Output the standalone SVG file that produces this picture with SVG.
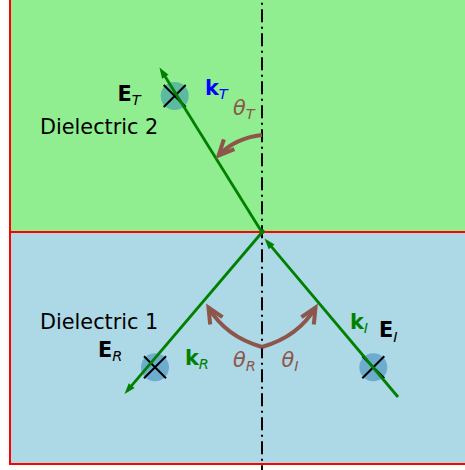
<svg xmlns="http://www.w3.org/2000/svg" width="465" height="470" viewBox="0 0 465 470">
<style>
.t{font-family:"DejaVu Sans",sans-serif;font-size:20.8px}
.b{font-weight:bold}
.s{font-style:italic;font-size:14.5px}
.i{font-style:italic}
.ray{stroke:#008000;stroke-width:2.8;fill:none;marker-end:url(#ah)}
.arc{stroke:#8c564b;stroke-width:4;fill:none;marker-end:url(#ch)}
.x{stroke:#000;stroke-width:2}
.dot{fill:#1f77b4;fill-opacity:0.45}
</style>
<defs>
<marker id="ah" markerUnits="userSpaceOnUse" orient="auto" overflow="visible" markerWidth="1" markerHeight="1">
<path d="M8,0 L-3,-3.8 L-3,3.8 Z" fill="#008000"/>
</marker>
<marker id="ch" markerUnits="userSpaceOnUse" orient="auto" overflow="visible" markerWidth="1" markerHeight="1">
<path d="M-15.4,-7.2 L0,0 L-15.4,7.2" fill="none" stroke="#8c564b" stroke-width="4" stroke-linejoin="miter"/>
</marker>
</defs>
<g id="dielectric2">
<rect x="10" y="-10" width="470" height="242" fill="#90ee90" stroke="#ff0000" stroke-width="2"/>
<text class="t" x="40" y="134.3">Dielectric 2</text>
</g>
<g id="dielectric1">
<rect x="10" y="232" width="470" height="232" fill="#add8e6" stroke="#ff0000" stroke-width="2"/>
<text class="t" x="40" y="329">Dielectric 1</text>
</g>
<line id="normal" x1="262" y1="0" x2="262" y2="470" stroke="#000" stroke-width="2" stroke-dasharray="13 4.5 2 4.5" stroke-dashoffset="14.7"/>
<g id="ET">
<circle class="dot" cx="174.7" cy="96" r="14"/>
<path class="x" d="M163.7,85 L185.7,107 M185.7,85 L163.7,107"/>
<text class="t" x="117.5" y="100.7"><tspan class="b">E</tspan><tspan class="s" dy="4.3">T</tspan></text>
</g>
<g id="ER">
<circle class="dot" cx="155" cy="367.3" r="14"/>
<path class="x" d="M144,356.3 L166,378.3 M166,356.3 L144,378.3"/>
<text class="t" x="98" y="356.7"><tspan class="b">E</tspan><tspan class="s" dy="4.3">R</tspan></text>
</g>
<g id="EI">
<circle class="dot" cx="373.3" cy="367.3" r="14"/>
<path class="x" d="M362.3,356.3 L384.3,378.3 M384.3,356.3 L362.3,378.3"/>
<text class="t" x="379" y="337.3"><tspan class="b">E</tspan><tspan class="s" dy="4.3">I</tspan></text>
</g>
<g id="connectors">
<path id="kT-ray" class="ray" d="M263,234 L163.7,74.3"/>
<path id="kI-ray" class="ray" d="M398,397 L269.7,244.6"/>
<path id="kR-ray" class="ray" d="M264,230 L129.7,387.9"/>
<path id="thetaT-arc" class="arc" d="M262,135 Q235,138 218.6,155.5"/>
<path id="thetaR-arc" class="arc" d="M262,347 Q226,337 208.5,307.6"/>
<path id="thetaI-arc" class="arc" d="M262,347 Q298,337 315.5,307.6"/>
</g>
<g id="labels">
<text class="t" x="205" y="95" fill="#0000ff"><tspan class="b">k</tspan><tspan class="s" dy="4.3">T</tspan></text>
<text class="t" x="185" y="365" fill="#008000"><tspan class="b">k</tspan><tspan class="s" dy="4.3">R</tspan></text>
<text class="t" x="350" y="329" fill="#008000"><tspan class="b">k</tspan><tspan class="s" dy="4.3">I</tspan></text>
<text class="t" x="233" y="115" fill="#8c564b"><tspan class="i">θ</tspan><tspan class="s" dy="4.3">T</tspan></text>
<text class="t" x="233" y="366.7" fill="#8c564b"><tspan class="i">θ</tspan><tspan class="s" dy="4.3">R</tspan></text>
<text class="t" x="281.5" y="366.7" fill="#8c564b"><tspan class="i">θ</tspan><tspan class="s" dy="4.3">I</tspan></text>
</g>
</svg>
